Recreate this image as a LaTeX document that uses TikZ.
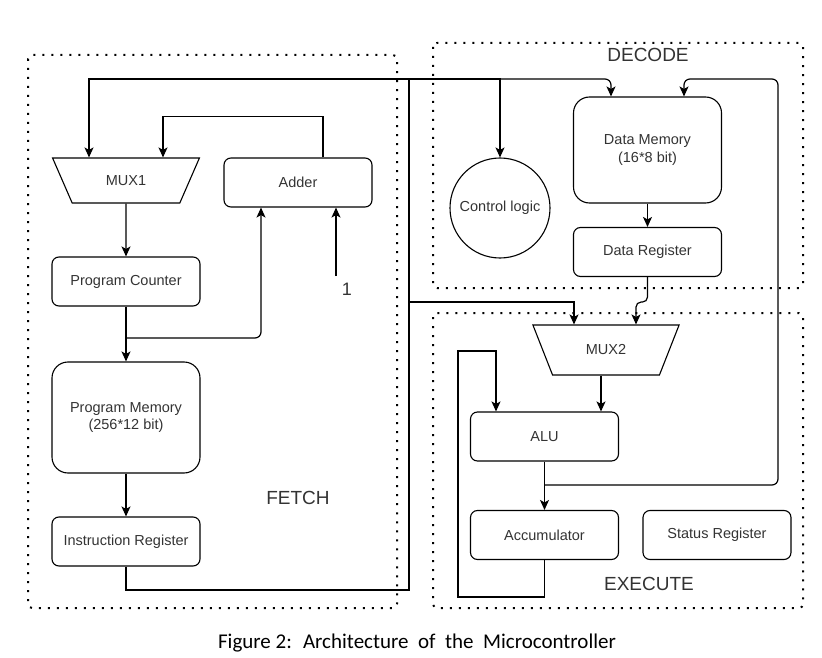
\documentclass[tikz,border=0pt]{standalone}
\usepackage{fontspec}
\setmainfont{Liberation Sans}
\newfontfamily\captionfont{Carlito}
\usetikzlibrary{arrows.meta,shapes.geometric}
\tikzset{
    >={Stealth[length=10pt,width=9pt,inset=2.5pt]}, % Default arrow tip
    block/.style={draw, rounded corners=7pt, line width=1.1pt,
        minimum width=148pt, minimum height=49pt, align=center,
        font=\fontsize{14.5}{17.5}\selectfont, text=black!80},
    memblock/.style={block, rounded corners=16pt},
    muxbox/.style={draw, trapezium, shape border rotate=180,
        trapezium angle=63, trapezium stretches=true, line width=1.1pt,
        minimum width=147pt, font=\fontsize{14.5}{17.5}\selectfont, text=black!80},
    stage/.style={dash pattern=on 2pt off 7pt, line width=2pt, rounded corners=4pt},
    stagelabel/.style={font=\fontsize{19}{22}\selectfont, text=black!80},
    wire/.style={line width=1.2pt},
}

\begin{document}
\begin{tikzpicture}[x=1pt, y=-1pt]
    \useasboundingbox (0,0) rectangle (822,658);

    % stages
    \draw[stage] (28,55) rectangle (397,608);
    \draw[stage] (433,43) rectangle (803,288);
    \draw[stage] (433,313) rectangle (803,608);
    \node[stagelabel] (decode) at (648,55) {DECODE};
    \node[stagelabel] (fetch) at (298,498) {FETCH};
    \node[stagelabel] (execute) at (649,584) {EXECUTE};

    \draw
        node[muxbox, minimum height=45pt] (mux1) at (126,180.5) {MUX1}
        node[block] (adder) at (298,182.5) {Adder}
        node[block] (pc) at (126,281.5) {Program Counter}
        node[memblock, minimum height=111pt] (pmem) at (126,417.5) {Program Memory\\(256*12 bit)}
        node[block] (ireg) at (126,541.5) {Instruction Register}
        node[draw, circle, line width=1.1pt, minimum size=100pt, inner sep=0pt,
            font=\fontsize{14.5}{17.5}\selectfont, text=black!80] (ctrl) at (500,208) {Control logic}
        node[memblock, minimum height=106pt] (dmem) at (647.5,150) {Data Memory\\(16*8 bit)}
        node[block] (dreg) at (647.5,252) {Data Register}
        node[muxbox, minimum height=50pt] (mux2) at (606,350) {MUX2}
        node[block] (alu) at (544.5,436.5) {ALU}
        node[block] (acc) at (544.5,535) {Accumulator}
        node[block] (sreg) at (717,535) {Status Register}
    ;
    \node[font=\fontsize{18}{20}\selectfont, text=black!80] (one) at (347,289) {1};

    \coordinate (inone) at (336,276);
    \coordinate (pcfork) at (126,338);
    \coordinate (bustop) at (409,79);
    \coordinate (busmid) at (409,302);
    \coordinate (alufork) at (544.5,485);

    % fetch
    \draw[wire,->] (mux1.south) -- (pc.north);
    \draw[wire,->] (pc) -- (pmem);
    \draw[wire,->] (pmem) -- (ireg);
    \draw[wire,->,rounded corners=6pt] (pcfork) -| ([xshift=-37pt]adder.south);
    \draw[wire,->] (inone) -- (inone |- adder.south);
    \draw[wire,->] ([xshift=25pt]adder.north) -- ++(0,-41) -| ([xshift=37pt]mux1.north);

    % bus
    \draw[wire] (ireg.south) |- (409,590) -- (bustop);
    \draw[wire,->] (bustop) -| ([xshift=-37pt]mux1.north);
    \draw[wire,->] (bustop) -| (ctrl.north);
    \draw[wire,->,rounded corners=6pt] (ctrl.north |- bustop) -| ([xshift=-36.5pt]dmem.north);
    \draw[wire,->] (busmid) -| ([xshift=-32pt]mux2.north);

    % decode / execute
    \draw[wire,->] (dmem) -- (dreg);
    \draw[wire,->,rounded corners=5pt] (dreg.south) -- ++(0,25) -| ([xshift=30pt]mux2.north);
    \draw[wire,->] ([xshift=-5pt]mux2.south) -- ([xshift=-5pt]mux2.south |- alu.north);
    \draw[wire,->] (alu) -- (acc);
    \draw[wire,->,rounded corners=6pt] (alufork) -| (778,79) -| ([xshift=36.5pt]dmem.north);
    \draw[wire,->] (acc.south) -- ++(0,37) -| (458,351) -| ([xshift=-48.5pt]alu.north);

    \node[font=\captionfont\fontsize{21}{25}\selectfont] (caption) at (417,643)
        {Figure 2: \ Architecture \ of \ the \ Microcontroller};
\end{tikzpicture}
\end{document}
